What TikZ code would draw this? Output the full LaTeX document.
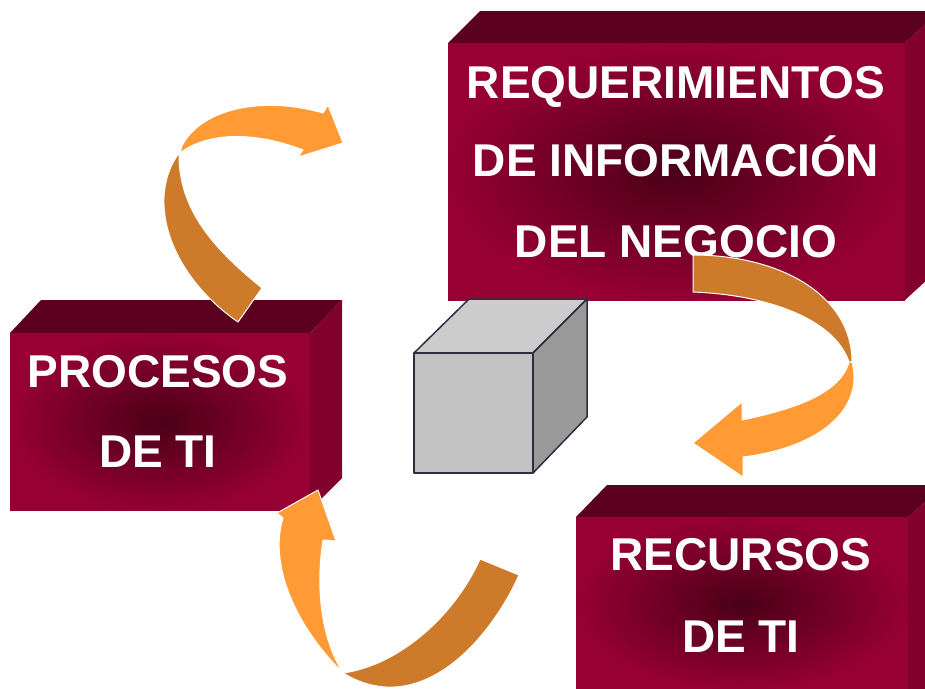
\documentclass[tikz,border=0pt]{standalone}
\usepackage{fontspec}
\setmainfont{Liberation Sans}
\definecolor{boxred}{HTML}{960032}
\definecolor{boxdark}{HTML}{4A0018}
\definecolor{boxtop}{HTML}{5C0020}
\definecolor{boxside}{HTML}{82002C}
\definecolor{cubefront}{HTML}{C2C2C2}
\definecolor{cubetop}{HTML}{CCCCCC}
\definecolor{cubeside}{HTML}{9A9A9A}
\definecolor{cubeline}{HTML}{2E2E40}
\definecolor{orlight}{HTML}{FF9A35}
\definecolor{ordark}{HTML}{CD7B2B}
\begin{document}
\begin{tikzpicture}[x=1pt,y=-1pt,
  front/.style={shading=radial,inner color=boxdark,outer color=boxred},
  topface/.style={fill=boxtop},
  sideface/.style={fill=boxside},
  label/.style={text=white,font=\fontsize{46}{55}\selectfont\bfseries,inner sep=0pt,anchor=base},
  cubeface/.style={draw=cubeline,line width=1.5pt,line join=round},
  light/.style={fill=orlight,draw=white,line width=1pt,line join=round},
  dark/.style={fill=ordark,draw=white,line width=1pt,line join=round}]
\useasboundingbox (0,0) rectangle (925,688);
\clip (0,0) rectangle (925,688);
\fill[white] (0,0) rectangle (925,688);

% top-right box
\fill[topface] (448,43) -- (480,11) -- (940,11) -- (905,43) -- cycle;
\fill[sideface] (905,43) -- (940,11) -- (940,268) -- (905,300) -- cycle;
\shade[front] (448,43) rectangle (905,300);
\node[label] (req1) at (676,98) {REQUERIMIENTOS};
\node[label] (req2) at (676,176) {DE INFORMACIÓN};
\node[label] (req3) at (676,257) {DEL NEGOCIO};

% left box
\fill[topface] (10,333) -- (41,300) -- (342,300) -- (310,333) -- cycle;
\fill[sideface] (310,333) -- (342,300) -- (342,478) -- (310,510) -- cycle;
\shade[front] (10,333) rectangle (310,510);
\node[label] (pro1) at (158,387) {PROCESOS};
\node[label] (pro2) at (158,467) {DE TI};

% bottom-right box
\fill[topface] (576,517) -- (607,485) -- (945,485) -- (908,517) -- cycle;
\fill[sideface] (908,517) -- (945,485) -- (945,700) -- (908,700) -- cycle;
\shade[front] (576,517) rectangle (908,690);
\node[label] (rec1) at (741,570) {RECURSOS};
\node[label] (rec2) at (741,652) {DE TI};

% cube
\filldraw[cubeface,fill=cubetop] (414,353) -- (469,299) -- (587,299) -- (533,353) -- cycle;
\filldraw[cubeface,fill=cubeside] (533,353) -- (587,299) -- (587,417) -- (533,473) -- cycle;
\filldraw[cubeface,fill=cubefront] (414,353) rectangle (533,473);

% arrow 1 (top-left)
\filldraw[dark] (238,322) -- (262,288) .. controls (215,250) and (178,210) .. (179,153)
  .. controls (145,200) and (170,275) .. (238,322) -- cycle;
\filldraw[light] (180,153) -- (182,146) .. controls (200,110) and (260,95) .. (323,113)
  -- (328,105) -- (343,143) -- (298,157) -- (303,150)
  .. controls (260,133) and (210,130) .. (180,153) -- cycle;

% arrow 2 (right)
\filldraw[dark] (693,255) .. controls (780,255) and (852,295) .. (852,362)
  -- (849,362) .. controls (835,320) and (770,295) .. (693,292) -- cycle;
\filldraw[light] (849,362) -- (852,362) .. controls (864,408) and (822,447) .. (743,457)
  -- (743,477) -- (693,443) -- (742,402) -- (742,420)
  .. controls (790,410) and (840,395) .. (849,362) -- cycle;

% arrow 3 (bottom)
\filldraw[dark] (480,559) -- (519,575) .. controls (490,640) and (420,720) .. (343,673)
  .. controls (400,665) and (455,615) .. (480,559) -- cycle;
\filldraw[light] (343,673) .. controls (290,620) and (270,560) .. (283,518)
  -- (277,513) -- (318,490) -- (336,541) -- (323,540)
  .. controls (315,590) and (322,640) .. (343,673) -- cycle;
\end{tikzpicture}
\end{document}
